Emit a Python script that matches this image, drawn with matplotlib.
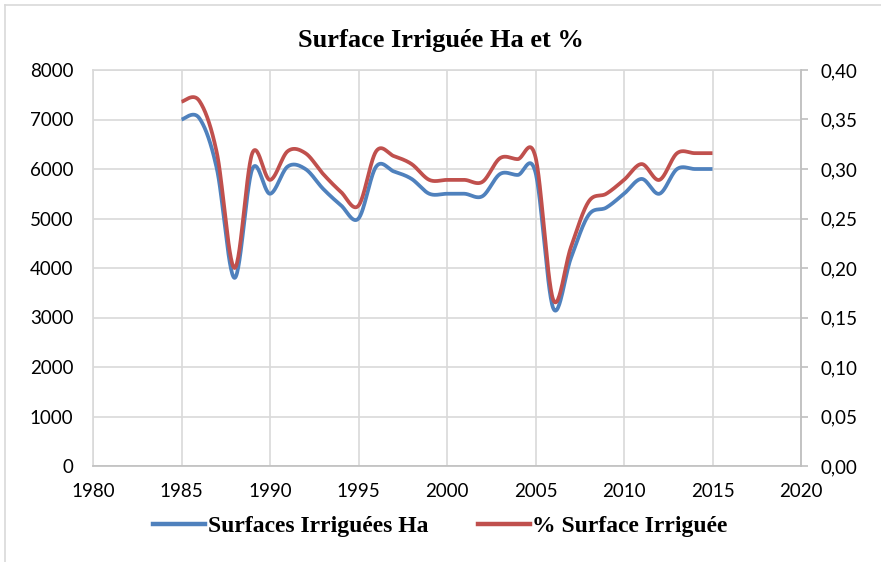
import numpy as np
import matplotlib
matplotlib.use("Agg")
import matplotlib.pyplot as plt
from matplotlib.lines import Line2D
from matplotlib.ticker import FuncFormatter

# données
annees = list(range(1985, 2016))
surfaces_ha = [7000, 7030, 6000, 3800, 6000, 5500, 6050, 6000, 5600, 5270,
               5000, 6050, 5950, 5800, 5500, 5500, 5500, 5450, 5900, 5880,
               5930, 3190, 4200, 5070, 5220, 5500, 5800, 5500, 6000, 6000, 6000]
pct_surface = [0.368, 0.369, 0.316, 0.200, 0.316, 0.289, 0.318, 0.316, 0.295, 0.277,
               0.263, 0.318, 0.313, 0.305, 0.289, 0.289, 0.289, 0.287, 0.311, 0.310,
               0.312, 0.168, 0.221, 0.267, 0.275, 0.289, 0.305, 0.289, 0.316, 0.316, 0.316]

titre = "Surface Irriguée Ha et %"
nom_bleu = "Surfaces Irriguées Ha"
nom_rouge = "% Surface Irriguée"

BLEU = "#4f81bd"
ROUGE = "#c0504d"
GRILLE = "#d9d9d9"


# lissage type Excel (bezier, points de controle a 1/6)
def lisser(x, y, n=30):
    x = np.asarray(x, float)
    y = np.asarray(y, float)
    xs, ys = [], []
    for i in range(len(x) - 1):
        i0 = max(i - 1, 0)
        i3 = min(i + 2, len(x) - 1)
        p0 = np.array([x[i], y[i]])
        p3 = np.array([x[i + 1], y[i + 1]])
        p1 = p0 + (np.array([x[i + 1], y[i + 1]]) - np.array([x[i0], y[i0]])) / 6
        p2 = p3 - (np.array([x[i3], y[i3]]) - np.array([x[i], y[i]])) / 6
        t = np.linspace(0, 1, n)[:, None]
        b = (1 - t) ** 3 * p0 + 3 * (1 - t) ** 2 * t * p1 + 3 * (1 - t) * t ** 2 * p2 + t ** 3 * p3
        xs.append(b[:, 0])
        ys.append(b[:, 1])
    return np.concatenate(xs), np.concatenate(ys)


fig = plt.figure(figsize=(8.81, 5.62), dpi=100)
ax = fig.add_axes([93 / 881, 1 - 466 / 562, (801 - 93) / 881, (466 - 70) / 562])
ax2 = ax.twinx()

xb, yb = lisser(annees, surfaces_ha)
ax.plot(xb, yb, color=BLEU, lw=2.7, solid_capstyle="butt")
xr, yr = lisser(annees, pct_surface)
ax2.plot(xr, yr, color=ROUGE, lw=2.7, solid_capstyle="butt")

ax.set_xlim(1980, 2020)
ax.set_ylim(0, 8000)
ax2.set_ylim(0, 0.40)
ax.set_xticks(range(1980, 2021, 5))
ax.set_yticks(range(0, 8001, 1000))
ax2.set_yticks(np.arange(0, 0.401, 0.05))
ax2.yaxis.set_major_formatter(FuncFormatter(lambda v, p: f"{v:.2f}".replace(".", ",")))

ax.grid(True, color=GRILLE, lw=1.2)
ax.set_axisbelow(True)
for a in (ax, ax2):
    for s in a.spines.values():
        s.set_color(GRILLE)
        s.set_linewidth(1.2)
ax.spines["bottom"].set_color("#bfbfbf")
ax2.spines["right"].set_color("#bfbfbf")
ax2.spines["left"].set_visible(False)
ax2.spines["top"].set_visible(False)
ax2.spines["bottom"].set_visible(False)

police = "Lato"
ax.tick_params(axis="x", length=0, labelsize=13.5, pad=12, labelcolor="black")
ax.tick_params(axis="y", length=0, labelsize=13.5, pad=14, labelcolor="black")
ax2.tick_params(axis="y", length=5, width=1.2, color="#bfbfbf", labelsize=13.5, pad=9, labelcolor="black")
for lab in ax.get_xticklabels() + ax.get_yticklabels() + ax2.get_yticklabels():
    lab.set_family(police)

fig.text(0.5, 1 - 40 / 562, titre, ha="center", va="center",
         family="Liberation Serif", weight="bold", fontsize=19)

poignees = [Line2D([], [], color=BLEU, lw=3.2), Line2D([], [], color=ROUGE, lw=3.2)]
fig.legend(poignees, [nom_bleu, nom_rouge], loc="center", bbox_to_anchor=(0.5, 1 - 526 / 562),
           ncol=2, frameon=False, handlelength=2.2, handletextpad=0.1, columnspacing=2.1,
           prop={"family": "Liberation Serif", "weight": "bold", "size": 17})

# cadre exterieur
fig.add_artist(Line2D([5 / 881, 5 / 881], [0, 1 - 5 / 562], color=GRILLE, lw=1.2))
fig.add_artist(Line2D([5 / 881, 1], [1 - 5 / 562, 1 - 5 / 562], color=GRILLE, lw=1.2))

fig.savefig("out.png", dpi=100)
